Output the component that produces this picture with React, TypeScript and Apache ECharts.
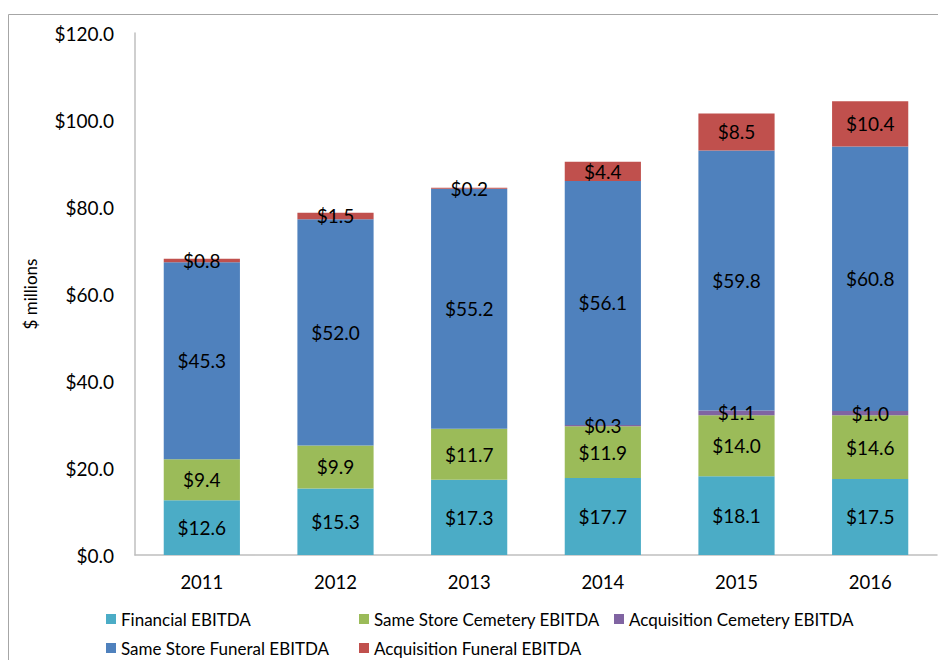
import React, { useEffect, useRef } from "react";
import * as echarts from "echarts";

const years = ["2011", "2012", "2013", "2014", "2015", "2016"];
const financial = [12.6, 15.3, 17.3, 17.7, 18.1, 17.5];
const sameStoreCemetery = [9.4, 9.9, 11.7, 11.9, 14.0, 14.6];
const acquisitionCemetery = [null, null, null, 0.3, 1.1, 1.0];
const sameStoreFuneral = [45.3, 52.0, 55.2, 56.1, 59.8, 60.8];
const acquisitionFuneral = [0.8, 1.5, 0.2, 4.4, 8.5, 10.4];

const seriesNames = [
  "Financial EBITDA",
  "Same Store Cemetery EBITDA",
  "Acquisition Cemetery EBITDA",
  "Same Store Funeral EBITDA",
  "Acquisition Funeral EBITDA",
];
const seriesData = [financial, sameStoreCemetery, acquisitionCemetery, sameStoreFuneral, acquisitionFuneral];
const colors = ["#4BACC6", "#9BBB59", "#8064A2", "#4F81BD", "#C0504D"];

const FONT = "Lato, 'Noto Sans', sans-serif";

export default function App() {
  const ref = useRef<HTMLDivElement>(null);
  useEffect(() => {
    if (!ref.current) return;
    const chart = echarts.init(ref.current, null, { renderer: "svg" });
    const legendPos = [
      { left: 106, top: 609 },
      { left: 359, top: 609 },
      { left: 614, top: 609 },
      { left: 106, top: 638 },
      { left: 359, top: 638 },
    ];
    chart.setOption({
      animation: false,
      textStyle: { fontFamily: FONT },
      graphic: [
        {
          type: "rect",
          shape: { x: 8.5, y: 14.5, width: 1000, height: 1000 },
          style: { fill: "none", stroke: "#a6a6a6", lineWidth: 1 },
          silent: true,
        },
      ],
      grid: { left: 135, top: 33, right: 1, bottom: 105, containLabel: false },
      legend: seriesNames.map((n, i) => ({
        data: [n],
        left: legendPos[i].left,
        top: legendPos[i].top,
        padding: 0,
        itemWidth: 10,
        itemHeight: 10,
        icon: "rect",
        textStyle: { fontFamily: FONT, fontSize: 17, color: "#000", lineHeight: 20 },
      })),
      xAxis: {
        type: "category",
        data: years,
        axisLine: { show: true, lineStyle: { color: "#bfbfbf", width: 1.5 } },
        axisTick: { show: false },
        axisLabel: { color: "#000", fontFamily: FONT, fontSize: 18.5, margin: 17 },
      },
      yAxis: {
        type: "value",
        min: 0,
        max: 120,
        interval: 20,
        name: "$ millions",
        nameLocation: "middle",
        nameGap: 96,
        nameRotate: 90,
        nameTextStyle: { color: "#000", fontFamily: FONT, fontSize: 17 },
        axisLine: { show: true, lineStyle: { color: "#bfbfbf", width: 1.5 } },
        axisTick: { show: false },
        splitLine: { show: false },
        axisLabel: {
          color: "#000",
          fontFamily: FONT,
          fontSize: 19,
          margin: 21,
          formatter: (v: number) => "$" + v.toFixed(1),
        },
      },
      series: seriesNames.map((n, i) => ({
        name: n,
        type: "bar",
        stack: "total",
        barWidth: "57%",
        data: seriesData[i],
        itemStyle: { color: colors[i] },
        label: {
          show: true,
          position: "inside",
          color: "#000",
          fontFamily: FONT,
          fontSize: 19,
          formatter: (p: any) => (p.value == null ? "" : "$" + Number(p.value).toFixed(1)),
        },
      })),
    });
    return () => chart.dispose();
  }, []);
  return (
    <div
      ref={ref}
      style={{ position: "fixed", left: 0, top: 0, width: 938, height: 660, background: "#fff" }}
    />
  );
}
